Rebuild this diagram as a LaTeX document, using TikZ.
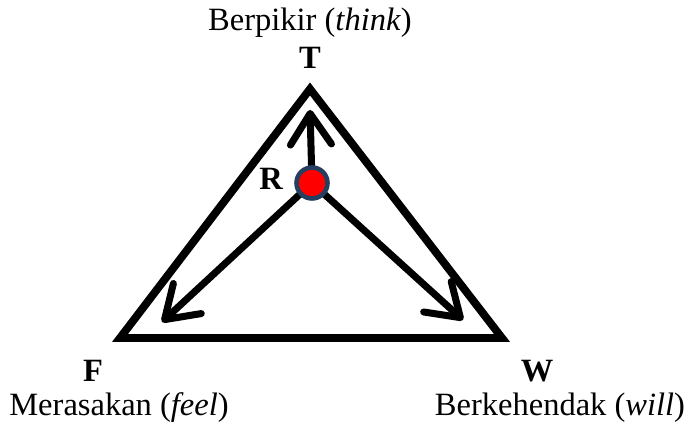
\documentclass[tikz,border=0pt]{standalone}
\usepackage{fontspec}
\setmainfont{Liberation Serif}
\usepackage{xcolor}
\usetikzlibrary{arrows.meta}
\definecolor{dotrim}{HTML}{243F60}
\tikzset{
  side/.style={line width=4.5pt,line join=miter},
  push/.style={line width=4pt,line cap=round,-{Straight Barb[length=6.2mm,width=8.2mm,round]}},
  lbl/.style={font=\fontsize{18.5}{22}\selectfont,inner sep=0pt},
  vtx/.style={lbl,font=\fontsize{18.5}{22}\selectfont\bfseries}
}
\begin{document}
\begin{tikzpicture}
  \useasboundingbox (0,0) rectangle (13.8,-8.5);
  % triangle corners
  \coordinate (T) at (6.2,-1.78);
  \coordinate (F) at (2.4,-6.76);
  \coordinate (W) at (10.04,-6.76);
  \coordinate (R) at (6.24,-3.66);
  % arrow ends
  \coordinate (tT) at (6.2,-2.2);
  \coordinate (tF) at (3.24,-6.44);
  \coordinate (tW) at (9.26,-6.4);
  \draw[side] (T) -- (F) -- (W) -- cycle;
  \foreach \e in {tT,tF,tW} \draw[push] (R) -- (\e);
  \node[circle,fill=red,draw=dotrim,line width=2.6pt,minimum size=0.62cm,inner sep=0pt] (dot) at (R) {};
  % labels
  \node[vtx] (lT) at (6.2,-1.15) {T};
  \node[vtx] (lR) at (5.42,-3.58) {R};
  \node[vtx] (lF) at (1.86,-7.42) {F};
  \node[vtx] (lW) at (10.74,-7.42) {W};
  \node[lbl] (think) at (6.2,-0.46) {Berpikir (\textit{think})};
  \node[lbl] (feel) at (2.38,-8.16) {Merasakan (\textit{feel})};
  \node[lbl] (will) at (11.2,-8.16) {Berkehendak (\textit{will})};
\end{tikzpicture}
\end{document}
